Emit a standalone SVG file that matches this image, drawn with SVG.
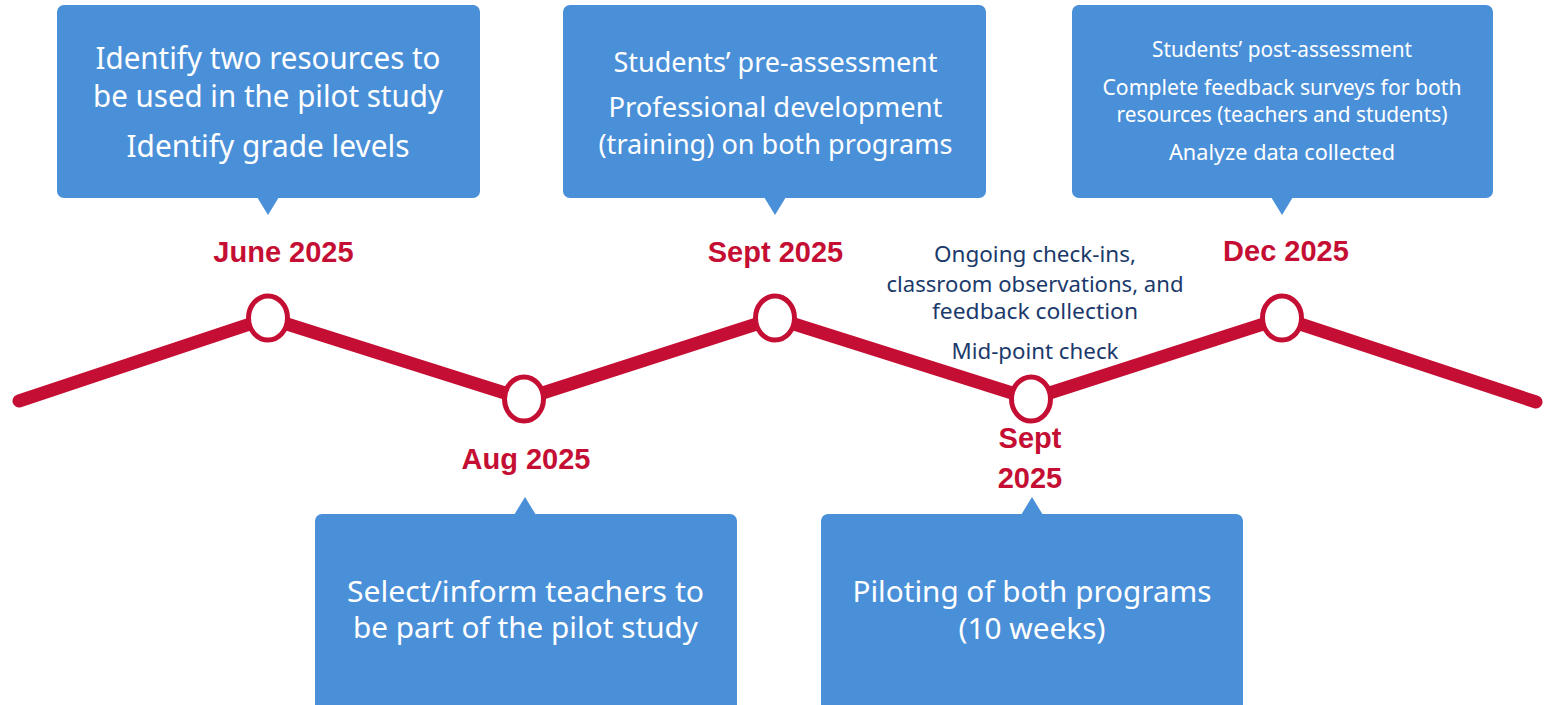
<svg xmlns="http://www.w3.org/2000/svg" width="1546" height="705" viewBox="0 0 1546 705">
  <style>
    .box { fill: #4A90D9; }
    .btxt { fill: #FFFFFF; font-family: "Noto Sans", "Open Sans", sans-serif; text-anchor: middle; }
    .date { fill: #C50E33; font-family: "Liberation Sans", Arial, sans-serif; font-weight: bold; font-size: 29px; text-anchor: middle; }
    .marker { fill: #FFFFFF; stroke: #C50E33; stroke-width: 5; }
    .timeline { fill: none; stroke: #C50E33; stroke-width: 13; stroke-linecap: round; stroke-linejoin: round; }
    .note { fill: #1B3A6B; font-family: "Noto Sans", "Open Sans", sans-serif; font-size: 22px; text-anchor: middle; }
  </style>
  <rect width="1546" height="705" fill="#FFFFFF"/>

  <g id="connectors">
    <polyline class="timeline" points="19,401 268,318 524,399 775,318 1031,399 1282,318 1536,402"/>
  </g>

  <g id="node-june-box">
    <rect class="box" x="57" y="5" width="423" height="193" rx="7"/>
    <polygon class="box" points="257,197 279,197 268,215"/>
    <text class="btxt" font-size="30" x="268" y="69" textLength="345" lengthAdjust="spacingAndGlyphs">Identify two resources to</text>
    <text class="btxt" font-size="30" x="268" y="107" textLength="350" lengthAdjust="spacingAndGlyphs">be used in the pilot study</text>
    <text class="btxt" font-size="30" x="268" y="157" textLength="283" lengthAdjust="spacingAndGlyphs">Identify grade levels</text>
  </g>

  <g id="node-sept-box">
    <rect class="box" x="563" y="5" width="423" height="193" rx="7"/>
    <polygon class="box" points="764,197 786,197 775,215"/>
    <text class="btxt" font-size="27.5" x="775.5" y="72" textLength="324" lengthAdjust="spacingAndGlyphs">Students’ pre-assessment</text>
    <text class="btxt" font-size="27.5" x="775.5" y="117" textLength="334" lengthAdjust="spacingAndGlyphs">Professional development</text>
    <text class="btxt" font-size="27.5" x="775.5" y="154" textLength="354" lengthAdjust="spacingAndGlyphs">(training) on both programs</text>
  </g>

  <g id="node-dec-box">
    <rect class="box" x="1072" y="5" width="421" height="193" rx="7"/>
    <polygon class="box" points="1271,197 1293,197 1282,215"/>
    <text class="btxt" font-size="21" x="1282" y="57" textLength="260" lengthAdjust="spacingAndGlyphs">Students’ post-assessment</text>
    <text class="btxt" font-size="21" x="1282" y="95" textLength="359" lengthAdjust="spacingAndGlyphs">Complete feedback surveys for both</text>
    <text class="btxt" font-size="21" x="1282" y="122" textLength="331" lengthAdjust="spacingAndGlyphs">resources (teachers and students)</text>
    <text class="btxt" font-size="21" x="1282" y="160" textLength="226" lengthAdjust="spacingAndGlyphs">Analyze data collected</text>
  </g>

  <g id="node-aug-box">
    <rect class="box" x="315" y="514" width="422" height="205" rx="7"/>
    <polygon class="box" points="514,515 536,515 525,497"/>
    <text class="btxt" font-size="29" x="525.5" y="602" textLength="357" lengthAdjust="spacingAndGlyphs">Select/inform teachers to</text>
    <text class="btxt" font-size="29" x="525.5" y="638" textLength="345" lengthAdjust="spacingAndGlyphs">be part of the pilot study</text>
  </g>

  <g id="node-sept2-box">
    <rect class="box" x="821" y="514" width="422" height="205" rx="7"/>
    <polygon class="box" points="1021,515 1043,515 1032,497"/>
    <text class="btxt" font-size="29" x="1032" y="602" textLength="359" lengthAdjust="spacingAndGlyphs">Piloting of both programs</text>
    <text class="btxt" font-size="29" x="1032" y="639" textLength="147" lengthAdjust="spacingAndGlyphs">(10 weeks)</text>
  </g>

  <g id="node-june">
    <ellipse class="marker" cx="268" cy="318" rx="19.5" ry="22"/>
    <text class="date" x="283.5" y="262">June 2025</text>
  </g>

  <g id="node-aug">
    <ellipse class="marker" cx="524" cy="399" rx="19.5" ry="22"/>
    <text class="date" x="526" y="469">Aug 2025</text>
  </g>

  <g id="node-sept">
    <ellipse class="marker" cx="775" cy="318" rx="19.5" ry="22"/>
    <text class="date" x="775.5" y="262">Sept 2025</text>
  </g>

  <g id="node-sept2">
    <ellipse class="marker" cx="1031" cy="399" rx="19.5" ry="22"/>
    <text class="date" x="1030" y="448">Sept</text>
    <text class="date" x="1030" y="488">2025</text>
  </g>

  <g id="node-dec">
    <ellipse class="marker" cx="1282" cy="318" rx="19.5" ry="22"/>
    <text class="date" x="1286" y="261">Dec 2025</text>
  </g>

  <g id="node-checkins">
    <text class="note" x="1035" y="262" textLength="202" lengthAdjust="spacingAndGlyphs">Ongoing check-ins,</text>
    <text class="note" x="1035" y="292" textLength="297" lengthAdjust="spacingAndGlyphs">classroom observations, and</text>
    <text class="note" x="1035" y="319" textLength="206" lengthAdjust="spacingAndGlyphs">feedback collection</text>
    <text class="note" x="1035" y="359" textLength="167" lengthAdjust="spacingAndGlyphs">Mid-point check</text>
  </g>
</svg>
